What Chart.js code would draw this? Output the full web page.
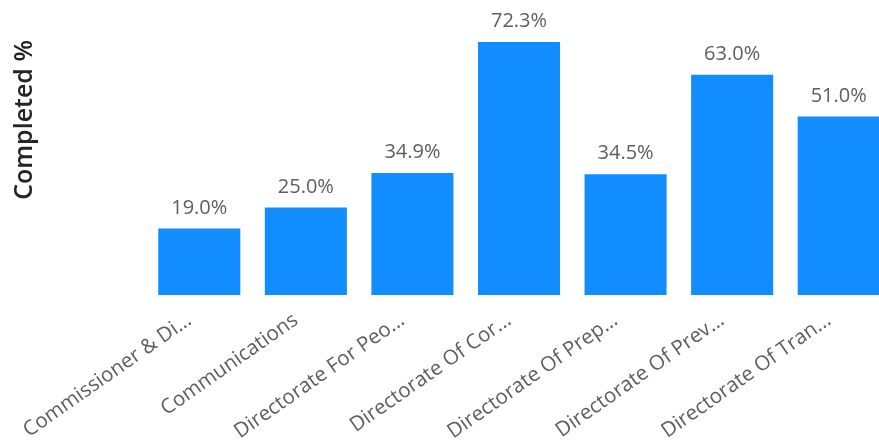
<!DOCTYPE html>
<html>
<head>
<meta charset="utf-8">
<title>Completed % by directorate</title>
<script src="https://cdn.jsdelivr.net/npm/chart.js@4/dist/chart.umd.min.js"></script>
<style>
  html, body { margin: 0; padding: 0; background: #fff; overflow: hidden; }
  #wrap { width: 892px; height: 440px; position: relative; }
</style>
</head>
<body>
<div id="wrap"><canvas id="chart"></canvas></div>
<script>
const directorates = [
  "Commissioner & Di...",
  "Communications",
  "Directorate For Peo...",
  "Directorate Of Cor...",
  "Directorate Of Prep...",
  "Directorate Of Prev...",
  "Directorate Of Tran..."
];
const completedPct = [19.0, 25.0, 34.9, 72.3, 34.5, 63.0, 51.0];

const FONT = "'Open Sans', 'Noto Sans', sans-serif";

// value labels above each bar
const barLabels = {
  id: "barLabels",
  afterDatasetsDraw(chart) {
    const { ctx } = chart;
    const meta = chart.getDatasetMeta(0);
    ctx.save();
    ctx.font = "20px " + FONT;
    ctx.fillStyle = "#605E5C";
    ctx.textAlign = "center";
    ctx.textBaseline = "alphabetic";
    meta.data.forEach((bar, i) => {
      const v = chart.data.datasets[0].data[i];
      ctx.fillText(v.toFixed(1) + "%", bar.x, bar.y - 15);
    });
    ctx.restore();
  }
};

const ctx = document.getElementById("chart").getContext("2d");
new Chart(ctx, {
  type: "bar",
  data: {
    labels: directorates,
    datasets: [{
      label: "Completed %",
      data: completedPct,
      backgroundColor: "#118DFF",
      barPercentage: 0.77,
      categoryPercentage: 1
    }]
  },
  options: {
    responsive: true,
    maintainAspectRatio: false,
    animation: false,
    layout: { padding: { top: 40, left: 0, right: 0, bottom: 0 } },
    plugins: { legend: { display: false }, tooltip: { enabled: false } },
    scales: {
      x: {
        grid: { display: false },
        border: { display: false },
        ticks: {
          color: "#605E5C",
          font: { family: FONT, size: 20.5 },
          minRotation: 35,
          maxRotation: 35,
          autoSkip: false,
          padding: 5,
          labelOffset: -10
        },
        afterFit(scale) { scale.height = 145; }
      },
      y: {
        min: 0,
        max: 72.9,
        grid: { display: false },
        border: { display: false },
        ticks: { display: false },
        title: {
          display: true,
          text: "Completed %",
          align: "end",
          color: "#252423",
          font: { family: FONT, size: 25, weight: "600" },
          padding: { top: 10, bottom: 0 }
        },
        afterFit(scale) { scale.width = 146; }
      }
    }
  },
  plugins: [barLabels]
});
</script>
</body>
</html>
